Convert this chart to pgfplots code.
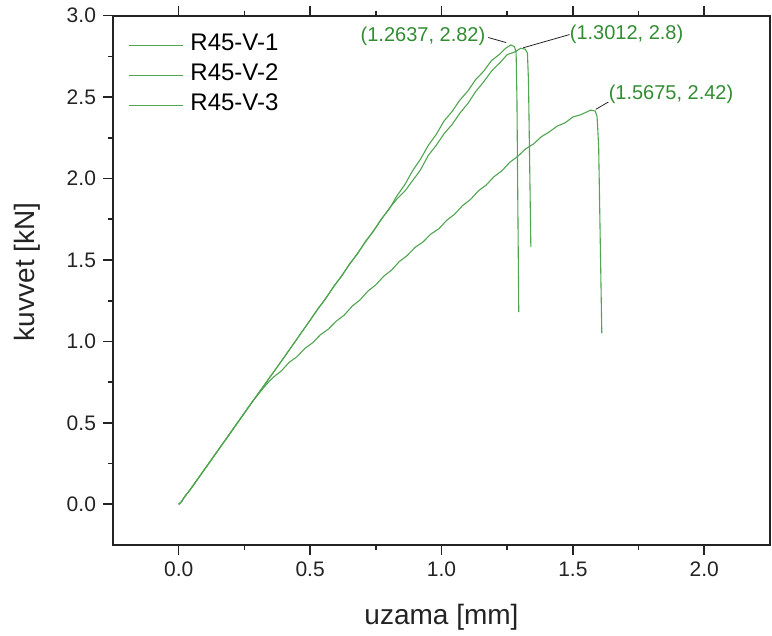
\documentclass[border=0pt]{standalone}
\usepackage{fontspec}
\setmainfont{Liberation Sans}
\usepackage{pgfplots}
\pgfplotsset{compat=1.18}
\definecolor{cgreen}{RGB}{80,165,80}
\definecolor{tgreen}{RGB}{50,140,50}
\definecolor{axgray}{RGB}{35,35,35}

\pgfplotstableread{
x y
0 0
0.01 0.015
0.02 0.04
0.03 0.062
0.042 0.086
0.1 0.218
0.2 0.446
0.3 0.674
0.4 0.90
0.5 1.13
0.53 1.202
0.56 1.263
0.59 1.339
0.62 1.400
0.65 1.476
0.68 1.536
0.71 1.613
0.74 1.673
0.77 1.750
0.80 1.810
0.83 1.893
0.86 1.961
0.89 2.048
0.92 2.119
0.95 2.204
0.98 2.271
1.01 2.354
1.04 2.411
1.07 2.482
1.10 2.537
1.13 2.608
1.16 2.658
1.19 2.724
1.22 2.762
1.245 2.801
1.2637 2.82
1.278 2.81
1.284 2.77
1.287 2.5
1.294 1.18
}\curveA

\pgfplotstableread{
x y
0 0
0.01 0.015
0.02 0.04
0.03 0.062
0.042 0.086
0.1 0.218
0.2 0.446
0.3 0.674
0.4 0.90
0.5 1.13
0.6 1.358
0.7 1.586
0.8 1.814
0.83 1.874
0.86 1.922
0.89 1.987
0.92 2.053
0.95 2.143
0.98 2.204
1.01 2.276
1.04 2.331
1.07 2.402
1.10 2.460
1.13 2.534
1.16 2.593
1.19 2.659
1.22 2.707
1.25 2.761
1.28 2.778
1.3012 2.80
1.318 2.795
1.327 2.77
1.331 2.6
1.34 1.58
}\curveB

\pgfplotstableread{
x y
0 0
0.01 0.015
0.02 0.04
0.03 0.062
0.042 0.086
0.1 0.218
0.2 0.446
0.28 0.63
0.333 0.735
0.36 0.780
0.39 0.818
0.42 0.871
0.45 0.906
0.48 0.957
0.51 0.992
0.54 1.042
0.57 1.076
0.60 1.125
0.63 1.162
0.66 1.216
0.69 1.255
0.72 1.309
0.75 1.347
0.78 1.400
0.81 1.438
0.84 1.491
0.87 1.528
0.90 1.578
0.93 1.611
0.96 1.660
0.99 1.692
1.02 1.744
1.05 1.781
1.08 1.834
1.11 1.871
1.14 1.924
1.17 1.960
1.20 2.012
1.23 2.048
1.26 2.100
1.29 2.136
1.32 2.182
1.35 2.212
1.38 2.257
1.41 2.286
1.44 2.322
1.47 2.342
1.50 2.378
1.53 2.392
1.5675 2.42
1.585 2.415
1.592 2.38
1.598 2.2
1.61 1.05
}\curveC

\begin{document}
\begin{tikzpicture}
\begin{axis}[
  scale only axis,
  width=328.5pt, height=264.65pt,
  xmin=-0.25, xmax=2.25, ymin=-0.25, ymax=3.0,
  xtick={0,0.5,1.0,1.5,2.0},
  ytick={0,0.5,1.0,1.5,2.0,2.5,3.0},
  minor x tick num=1, minor y tick num=1,
  tick align=outside,
  xtick pos=both, ytick pos=left,
  major tick length=5pt, minor tick length=2.5pt,
  axis line style={line width=0.9pt, color=axgray},
  every tick/.style={line width=0.8pt, color=axgray},
  tick label style={font=\fontsize{10.5}{12}\selectfont, color=axgray},
  /pgf/number format/assume math mode=true,
  xticklabel style={/pgf/number format/.cd, fixed, fixed zerofill, precision=1},
  yticklabel style={/pgf/number format/.cd, fixed, fixed zerofill, precision=1},
  xlabel={uzama [mm]},
  ylabel={kuvvet [kN]},
  xlabel style={at={(axis description cs:0.5,-0.151)}, anchor=base, font=\fontsize{14}{16}\selectfont, color=axgray},
  ylabel style={at={(axis description cs:-0.131,0.516)}, anchor=center, font=\fontsize{14}{16}\selectfont, color=axgray},
  legend style={draw=none, fill=none, at={(axis description cs:0.0228,0.973)}, anchor=north west,
    font=\fontsize{12}{14}\selectfont, inner sep=0pt, row sep=0pt, column sep=3.5pt,
    nodes={inner sep=0pt, text height=10pt, text depth=5pt}, cells={anchor=west}},
  legend image code/.code={\draw[#1] (0pt,0pt) -- (27pt,0pt);},
  clip=false,
]
\addplot[cgreen, line width=0.55pt] table[x=x,y=y] {\curveA};
\addlegendentry{R45-V-1}
\addplot[cgreen, line width=0.55pt] table[x=x,y=y] {\curveB};
\addlegendentry{R45-V-2}
\addplot[cgreen, line width=0.55pt] table[x=x,y=y] {\curveC};
\addlegendentry{R45-V-3}

\node[anchor=east, text=tgreen, font=\fontsize{10}{12}\selectfont, inner sep=0pt] at (axis cs:1.168,2.872) {(1.2637, 2.82)};
\draw[axgray, line width=0.4pt] (axis cs:1.178,2.866) -- (axis cs:1.246,2.835);
\node[anchor=west, text=tgreen, font=\fontsize{10}{12}\selectfont, inner sep=0pt] at (axis cs:1.487,2.884) {(1.3012, 2.8)};
\draw[axgray, line width=0.4pt] (axis cs:1.311,2.803) -- (axis cs:1.487,2.884);
\node[anchor=west, text=tgreen, font=\fontsize{10}{12}\selectfont, inner sep=0pt] at (axis cs:1.635,2.515) {(1.5675, 2.42)};
\draw[axgray, line width=0.4pt] (axis cs:1.587,2.425) -- (axis cs:1.635,2.47);
\end{axis}
\pgfresetboundingbox
\path[use as bounding box] ([shift={(-56.5pt,-45.5pt)}]current axis.south west) rectangle ([shift={(1pt,7.85pt)}]current axis.north east);
\end{tikzpicture}
\end{document}
